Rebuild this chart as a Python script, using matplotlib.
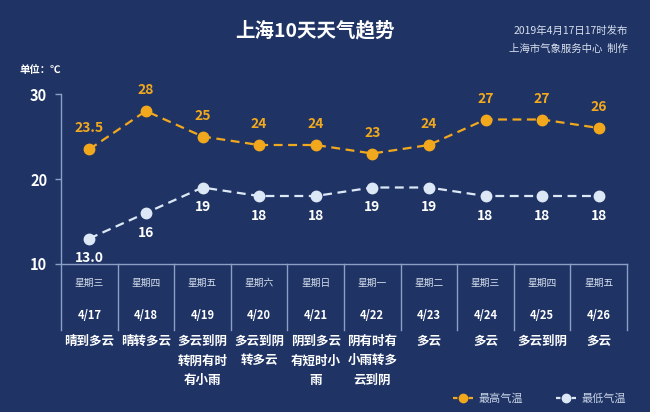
import matplotlib
matplotlib.use('Agg')
import matplotlib.pyplot as plt
from matplotlib.lines import Line2D

plt.rcParams['font.family'] = ['Noto Sans CJK SC', 'DejaVu Sans']

# 数据
weekdays = ['星期三', '星期四', '星期五', '星期六', '星期日',
            '星期一', '星期二', '星期三', '星期四', '星期五']
dates = ['4/17', '4/18', '4/19', '4/20', '4/21',
         '4/22', '4/23', '4/24', '4/25', '4/26']
weather = ['晴到多云', '晴转多云', '多云到阴\n转阴有时\n有小雨', '多云到阴\n转多云',
           '阴到多云\n有短时小\n雨', '阴有时有\n小雨转多\n云到阴', '多云', '多云',
           '多云到阴', '多云']
high_temp = [23.5, 28, 25, 24, 24, 23, 24, 27, 27, 26]
low_temp = [13.0, 16, 19, 18, 18, 19, 19, 18, 18, 18]
high_labels = ['23.5', '28', '25', '24', '24', '23', '24', '27', '27', '26']
low_labels = ['13.0', '16', '19', '18', '18', '19', '19', '18', '18', '18']

bg = '#1f3465'
orange = '#f2a81d'
pale = '#dde8f6'
grid_c = '#8d9fc4'

W, H = 650, 412
fig = plt.figure(figsize=(W / 100, H / 100), dpi=100, facecolor=bg)
ax = fig.add_axes([61 / W, 1 - 264 / H, (627 - 61) / W, 170 / H])
ax.set_facecolor(bg)

xs = [i + 0.5 for i in range(len(dates))]
ax.plot(xs, high_temp, '--', color=orange, lw=1.6, marker='o', ms=7.5,
        markerfacecolor=orange, markeredgecolor=orange, dashes=(4, 2.5),
        label='最高气温', clip_on=False)
ax.plot(xs, low_temp, '--', color=pale, lw=1.6, marker='o', ms=7.5,
        markerfacecolor=pale, markeredgecolor=pale, dashes=(4, 2.5),
        label='最低气温', clip_on=False)

for x, y, t in zip(xs, high_temp, high_labels):
    ax.annotate(t, (x, y), xytext=(0, 10), textcoords='offset points',
                ha='center', va='bottom', color=orange, fontsize=10,
                fontweight='bold')
for x, y, t in zip(xs, low_temp, low_labels):
    ax.annotate(t, (x, y), xytext=(0, -9), textcoords='offset points',
                ha='center', va='top', color='white', fontsize=10,
                fontweight='bold')

ax.set_xlim(0, 10)
ax.set_ylim(10, 30)
ax.set_yticks([10, 20, 30])
ax.set_yticklabels(['10', '20', '30'], color='white', fontsize=10.5,
                   fontweight='bold')
ax.set_xticks([])
ax.tick_params(axis='y', colors=grid_c, length=4, width=1, pad=6)
for lbl in ax.get_yticklabels():
    lbl.set_color('white')
for s in ['top', 'right']:
    ax.spines[s].set_visible(False)
ax.spines['left'].set_color(grid_c)
ax.spines['bottom'].set_color(grid_c)
ax.spines['left'].set_linewidth(1)
ax.spines['bottom'].set_linewidth(1)

# 表格部分
tr = ax.get_xaxis_transform()
for i in range(len(dates) + 1):
    ax.plot([i, i], [0, -0.39], color=grid_c, lw=1, transform=tr, clip_on=False)
for x, wd, d, w in zip(xs, weekdays, dates, weather):
    ax.text(x, -0.11, wd, transform=tr, ha='center', va='center',
            color='#d8e0ee', fontsize=7)
    ax.text(x, -0.305, d, transform=tr, ha='center', va='center',
            color='white', fontsize=8, fontweight='bold')
    ax.text(x, -0.415, w, transform=tr, ha='center', va='top',
            color='white', fontsize=9, fontweight='bold', linespacing=1.68)

# 标题与说明
fig.text(315 / W, 1 - 31 / H, '上海10天天气趋势', ha='center', va='center',
         color='white', fontsize=14, fontweight='bold')
fig.text(628 / W, 1 - 31 / H, '2019年4月17日17时发布', ha='right',
         va='center', color='#d8e0ee', fontsize=7.5)
fig.text(628 / W, 1 - 49 / H, '上海市气象服务中心  制作', ha='right',
         va='center', color='#d8e0ee', fontsize=7.5)
fig.text(20 / W, 1 - 70 / H, '单位：℃', ha='left', va='center',
         color='white', fontsize=7.5, fontweight='bold')

handles = [
    Line2D([], [], color=orange, ls='--', lw=1.6, marker='o', ms=6,
           dashes=(2, 1.5)),
    Line2D([], [], color=pale, ls='--', lw=1.6, marker='o', ms=6,
           dashes=(2, 1.5)),
]
fig.legend(handles, ['最高气温', '最低气温'], loc='center',
           bbox_to_anchor=(0.83, 1 - 399 / H), ncol=2, frameon=False,
           fontsize=8, labelcolor='#c8d2e6', handlelength=1.8,
           columnspacing=3.0, handletextpad=0.5)

fig.savefig('out.png', dpi=100, facecolor=bg)
